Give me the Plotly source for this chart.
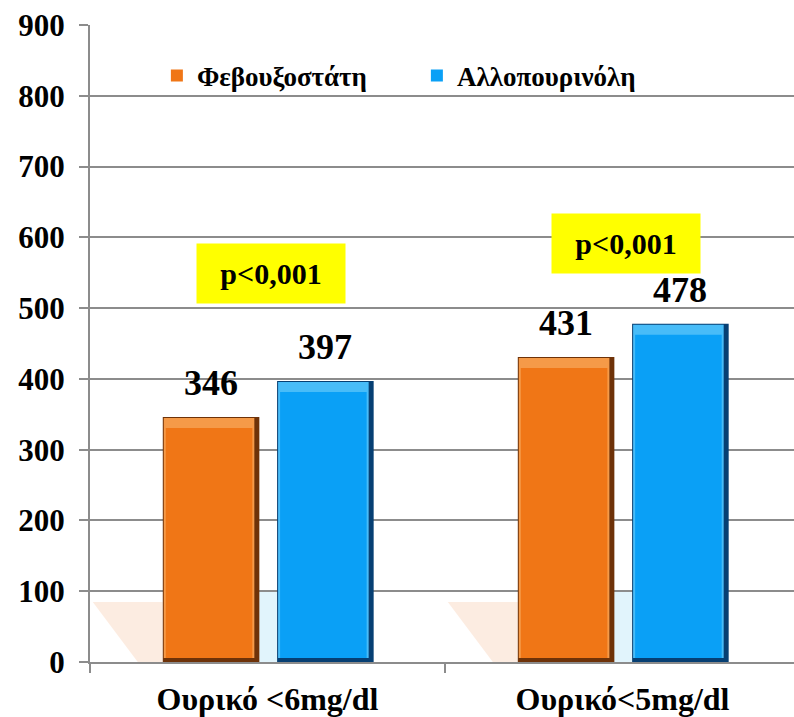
import plotly.graph_objects as go

# Data
categories = ["Ουρικό <6mg/dl", "Ουρικό<5mg/dl"]
febuxostat = [346, 431]
allopurinol = [397, 478]
series_names = ["Φεβουξοστάτη", "Αλλοπουρινόλη"]
p_labels = ["p<0,001", "p<0,001"]
p_label_y = [549, 591]
y_ticks = [0, 100, 200, 300, 400, 500, 600, 700, 800, 900]

FONT = "Liberation Serif, DejaVu Serif Condensed, DejaVu Serif, serif"

# pixel -> axis unit helpers (plot area: 704 px wide over 1.983 categories, 637 px tall over 900)
PX_X = 1.983 / 704
PX_Y = 900 / 637

BAR_W = 0.272
OFFSETS = [-0.295, 0.027]

styles = [
    dict(dark="#6e3208", light="#f59a48", main="#f07616", shade="rgba(240,150,90,0.18)"),
    dict(dark="#063f73", light="#48bcf8", main="#0aa0f6", shade="rgba(120,205,240,0.22)"),
]

fig = go.Figure()

for s, (name, vals) in enumerate(zip(series_names, [febuxostat, allopurinol])):
    st = styles[s]
    off = OFFSETS[s]
    # outer dark rim (right and bottom edges)
    fig.add_trace(go.Bar(
        x=categories, y=vals, offset=off, width=BAR_W,
        marker=dict(color=st["dark"], line=dict(width=0)),
        showlegend=False, hoverinfo="skip"))
    # light bevel (top face)
    fig.add_trace(go.Bar(
        x=categories, y=[v - 4 * PX_Y - 1 * PX_Y for v in vals],
        base=[4 * PX_Y] * len(vals),
        offset=off + 1 * PX_X, width=BAR_W - 6 * PX_X,
        marker=dict(color=st["light"], line=dict(width=0)),
        showlegend=False, hoverinfo="skip"))
    # main face
    fig.add_trace(go.Bar(
        name=f"<b>{name}</b>", x=categories,
        y=[v - 4 * PX_Y - 11 * PX_Y for v in vals],
        base=[4 * PX_Y] * len(vals),
        offset=off + 3 * PX_X, width=BAR_W - 10 * PX_X,
        marker=dict(color=st["main"], line=dict(width=0)),
        hovertemplate="%{x}: %{customdata}<extra>" + name + "</extra>",
        customdata=vals))

    # value labels
    for i, v in enumerate(vals):
        fig.add_annotation(
            x=i + off + BAR_W / 2, y=v, xref="x", yref="y",
            text=f"<b>{v}</b>", showarrow=False, yanchor="bottom",
            yshift=12, font=dict(family=FONT, size=36, color="black"))

# soft floor shadows behind the bars
shadow_shapes = []
for i in range(len(categories)):
    o_left = i + OFFSETS[0]
    b_left = i + OFFSETS[1]
    shadow_shapes.append(dict(
        type="path", xref="x", yref="y", layer="below",
        path=(f"M{o_left - 70 * PX_X},{60 * PX_Y} L{o_left},{60 * PX_Y} "
              f"L{o_left},0 L{o_left - 25 * PX_X},0 Z"),
        fillcolor=styles[0]["shade"], line=dict(width=0)))
    shadow_shapes.append(dict(
        type="path", xref="x", yref="y", layer="below",
        path=(f"M{b_left - 80 * PX_X},{70 * PX_Y} L{b_left},{70 * PX_Y} "
              f"L{b_left},0 L{b_left - 40 * PX_X},0 Z"),
        fillcolor=styles[1]["shade"], line=dict(width=0)))

# significance boxes
for i, (txt, yv) in enumerate(zip(p_labels, p_label_y)):
    fig.add_annotation(
        x=i + 0.01, y=yv, xref="x", yref="y",
        text=f"<b>{txt}</b>", showarrow=False,
        width=148, height=59, bgcolor="#ffff00", borderpad=0,
        font=dict(family=FONT, size=30, color="black"))

fig.update_layout(
    width=794, height=717,
    margin=dict(l=90, r=0, t=25, b=55),
    paper_bgcolor="white", plot_bgcolor="white",
    barmode="overlay",
    shapes=shadow_shapes,
    legend=dict(
        orientation="h", x=0.095, y=0.92, xanchor="left", yanchor="middle",
        font=dict(family=FONT, size=27, color="black"),
        entrywidth=215, entrywidthmode="pixels",
        bgcolor="rgba(0,0,0,0)", itemclick=False, itemdoubleclick=False),
    font=dict(family=FONT, color="black"),
)

fig.update_xaxes(
    type="category", range=[-0.5, 1.483],
    showline=True, linecolor="#8c8c8c", linewidth=2,
    ticks="outside", tickson="boundaries", ticklen=9, tickcolor="#8c8c8c", tickwidth=2,
    tickfont=dict(family=FONT, size=32, color="black"),
    ticklabelstandoff=8,
    tickprefix="<b>", ticksuffix="</b>",
    showgrid=False, zeroline=False, fixedrange=True)

fig.update_yaxes(
    range=[0, 900], tickvals=y_ticks,
    ticktext=[f"<b>{t}</b>" for t in y_ticks],
    showline=True, linecolor="#8c8c8c", linewidth=2,
    ticks="outside", ticklen=9, tickcolor="#8c8c8c", tickwidth=2,
    ticklabelstandoff=8,
    showgrid=True, gridcolor="#8c8c8c", gridwidth=2,
    zeroline=False,
    tickfont=dict(family=FONT, size=31, color="black"),
    fixedrange=True)

fig.write_html("out.html")
